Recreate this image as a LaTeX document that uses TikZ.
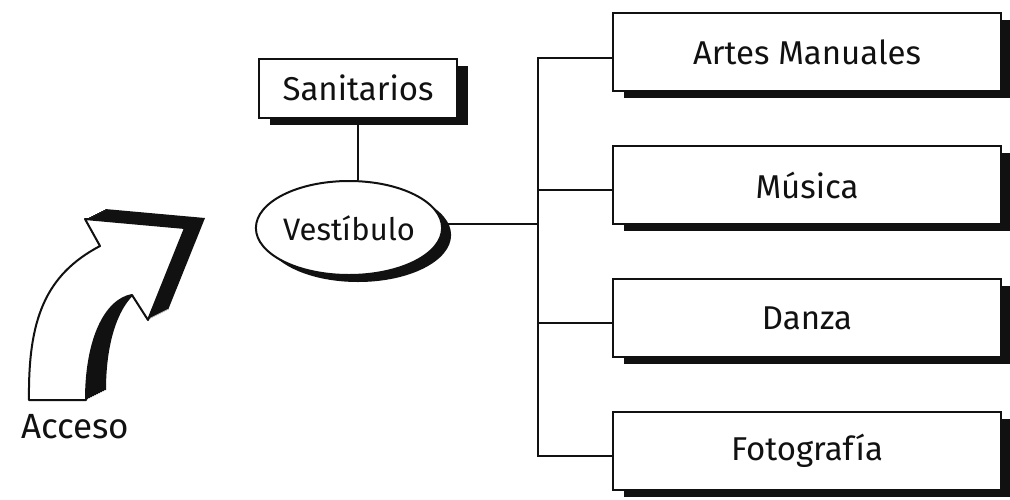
\documentclass[tikz,border=0pt]{standalone}
\usepackage{fontspec}
\setmainfont{Fira Sans}
\usetikzlibrary{shapes.geometric,shadows}
\definecolor{Ink}{HTML}{111111}
\newcommand\accesspath{(29,400) -- (86,400) .. controls (86,340) and (105,300) .. (132,295) -- (148,320) -- (185,228) -- (85,219) -- (100,246) .. controls (45,275) and (28,320) .. (29,400) -- cycle}

\begin{document}
\begin{tikzpicture}[x=1pt,y=-1pt,every node/.style={font=\fontsize{33}{38}\selectfont,text=Ink},
  room/.style={draw=Ink,line width=2pt,fill=white,minimum width=388pt,minimum height=78pt,inner sep=0pt,
    drop shadow={shadow xshift=11pt,shadow yshift=-7pt,fill=Ink,opacity=1}},
  hall/.style={ellipse,draw=Ink,line width=2pt,fill=white,minimum width=175pt,minimum height=94pt,inner sep=0pt,
    drop shadow={shadow xshift=9pt,shadow yshift=-7pt,fill=Ink,opacity=1}},
  link/.style={draw=Ink,line width=2pt}]
\useasboundingbox (0,0) rectangle (1010,499);
\fill[white] (0,0) rectangle (1010,499);
% arrow of the entrance
\foreach \t in {0,1,...,10} \fill[Ink,shift={(2*\t,-\t)}] \accesspath;
\draw[Ink,fill=white,line width=2pt,line join=round] \accesspath;
\node[font=\fontsize{35}{40}\selectfont] (acceso) at (75,427) {Acceso};
% rooms
\node[room,minimum width=198pt,minimum height=59pt] (sanit) at (358,88) {Sanitarios};
\node[hall,font=\fontsize{31}{36}\selectfont] (vest) at (349,228) {Vestíbulo};
\node[room] (artes) at (807,52) {Artes Manuales};
\node[room] (musica) at (807,185) {Música};
\node[room] (danza) at (807,318) {Danza};
\node[room] (foto) at (807,451) {Fotografía};
\coordinate (bus) at (538,0);
\coordinate (artesin) at ([yshift=-6pt]artes.west);
\coordinate (musicain) at ([yshift=-5pt]musica.west);
\coordinate (danzain) at ([yshift=-5pt]danza.west);
\coordinate (fotoin) at ([yshift=-5pt]foto.west);
\draw[link] (sanit.south) -- (sanit.south |- vest.north);
\draw[link] ([yshift=4pt]vest.east) -- ([yshift=4pt]vest.east -| bus);
\draw[link] (artesin) -| (bus |- fotoin) -- (fotoin);
\draw[link] (musicain) -- (musicain -| bus);
\draw[link] (danzain) -- (danzain -| bus);
\end{tikzpicture}
\end{document}
